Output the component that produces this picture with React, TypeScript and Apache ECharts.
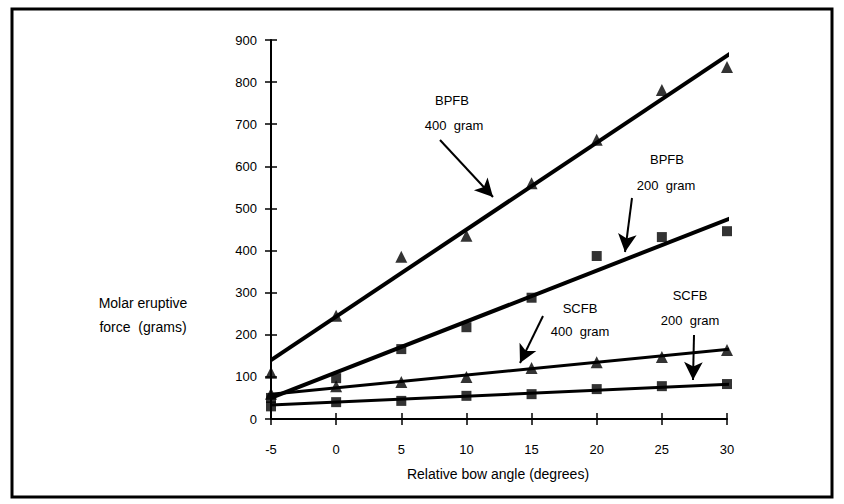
import React, { useEffect, useRef } from "react";
import * as echarts from "echarts";

// Relative bow angle (degrees)
const angles = [-5, 0, 5, 10, 15, 20, 25, 30];
// Molar eruptive force (grams) – measured points
const bpfb400 = [110, 245, 385, 435, 560, 663, 781, 836];
const bpfb200 = [50, 97, 166, 218, 288, 387, 432, 446];
const scfb400 = [60, 78, 88, 100, 121, 135, 147, 164];
const scfb200 = [30, 40, 43, 55, 59, 71, 78, 83];
// Regression line end points [angle, force]
const fitBpfb400 = [[-5, 140], [30.3, 869]];
const fitBpfb200 = [[-5, 50], [30.3, 477]];
const fitScfb400 = [[-5, 59], [30.3, 166]];
const fitScfb200 = [[-5, 33], [30.3, 83]];
const xTicks = { min: -5, max: 30, step: 5 };
const yTicks = { min: 0, max: 900, step: 100 };

const FONT = "Liberation Sans";

export default function App() {
  const ref = useRef<HTMLDivElement>(null);
  useEffect(() => {
    if (!ref.current) return;
    const chart = echarts.init(ref.current, undefined, { renderer: "svg" });
    const pts = (ys: number[]) => angles.map((a, i) => [a, ys[i]]);
    const lineSeries = (d: number[][], w: number) => ({
      type: "line",
      data: d,
      symbol: "none",
      lineStyle: { color: "#000", width: w },
      silent: true,
      z: 2,
    });
    const markSeries = (d: number[][], sym: string, size: number) => ({
      type: "scatter",
      data: d,
      symbol: sym,
      symbolSize: size,
      itemStyle: { color: "#000" },
      z: 3,
    });
    const arrow = (x1: number, y1: number, x2: number, y2: number) => [
      { x: x1, y: y1 },
      { x: x2, y: y2 },
    ];
    const txt = (x: number, y: number, s: string) => ({
      type: "text",
      x,
      y,
      style: {
        text: s,
        fill: "#000",
        font: `13px "${FONT}"`,
        textAlign: "center",
        textVerticalAlign: "middle",
      },
    });
    chart.setOption({
      animation: false,
      backgroundColor: "#fff",
      grid: { left: 271, top: 40, width: 456, height: 379 },
      xAxis: [
        {
          type: "value",
          min: xTicks.min,
          max: xTicks.max,
          interval: xTicks.step,
          axisLine: { show: true, onZero: false, lineStyle: { color: "#000", width: 2 } },
          axisTick: { show: true, length: 6, lineStyle: { color: "#000", width: 1.5 } },
          axisLabel: {
            color: "#000",
            fontFamily: FONT,
            fontSize: 13,
            margin: 24,
          },
          splitLine: { show: false },
        },
        {
          type: "value",
          position: "bottom",
          min: xTicks.min,
          max: xTicks.max,
          interval: xTicks.step,
          axisLine: { show: false, onZero: false },
          axisTick: { show: true, inside: true, length: 6, lineStyle: { color: "#000", width: 1.5 } },
          axisLabel: { show: false },
          splitLine: { show: false },
        },
      ],
      yAxis: [
        {
          type: "value",
          min: yTicks.min,
          max: yTicks.max,
          interval: yTicks.step,
          axisLine: { show: true, onZero: false, lineStyle: { color: "#000", width: 2 } },
          axisTick: { show: true, length: 6, lineStyle: { color: "#000", width: 1.5 } },
          axisLabel: { color: "#000", fontFamily: FONT, fontSize: 13, margin: 14 },
          splitLine: { show: false },
        },
        {
          type: "value",
          position: "left",
          min: yTicks.min,
          max: yTicks.max,
          interval: yTicks.step,
          axisLine: { show: false, onZero: false },
          axisTick: { show: true, inside: true, length: 6, lineStyle: { color: "#000", width: 1.5 } },
          axisLabel: { show: false },
          splitLine: { show: false },
        },
      ],
      series: [
        lineSeries(fitBpfb400, 4),
        lineSeries(fitBpfb200, 4),
        lineSeries(fitScfb400, 3),
        lineSeries(fitScfb200, 3),
        markSeries(pts(bpfb400), "triangle", 12),
        markSeries(pts(bpfb200), "rect", 10),
        markSeries(pts(scfb400), "triangle", 12),
        markSeries(pts(scfb200), "rect", 10),
        {
          type: "line",
          data: [],
          markLine: {
            silent: true,
            symbol: ["none", "arrow"],
            symbolSize: [14, 18],
            label: { show: false },
            lineStyle: { color: "#000", width: 2, type: "solid" },
            data: [
              arrow(440, 140, 493, 197),
              arrow(632, 198, 625, 252),
              arrow(543, 316, 520, 363),
              arrow(694, 335, 693, 380),
            ],
          },
        },
      ],
      graphic: [
        {
          type: "rect",
          shape: { x: 12, y: 9, width: 820, height: 488 },
          style: { fill: "none", stroke: "#000", lineWidth: 3 },
          silent: true,
        },
        txt(452, 100, "BPFB"),
        txt(454, 125, "400  gram"),
        txt(667, 159, "BPFB"),
        txt(666, 185, "200  gram"),
        txt(580, 308, "SCFB"),
        txt(580, 331, "400  gram"),
        txt(690, 295, "SCFB"),
        txt(690, 320, "200  gram"),
        {
          type: "text",
          x: 143,
          y: 315,
          style: {
            text: "Molar eruptive\nforce  (grams)",
            fill: "#000",
            font: `14px "${FONT}"`,
            textAlign: "center",
            textVerticalAlign: "middle",
            lineHeight: 24,
          },
        },
        {
          type: "text",
          x: 498,
          y: 474,
          style: {
            text: "Relative bow angle (degrees)",
            fill: "#000",
            font: `14px "${FONT}"`,
            textAlign: "center",
            textVerticalAlign: "middle",
          },
        },
      ],
    });
    return () => chart.dispose();
  }, []);
  return (
    <div
      ref={ref}
      style={{ position: "absolute", left: 0, top: 0, width: 844, height: 504 }}
    />
  );
}
